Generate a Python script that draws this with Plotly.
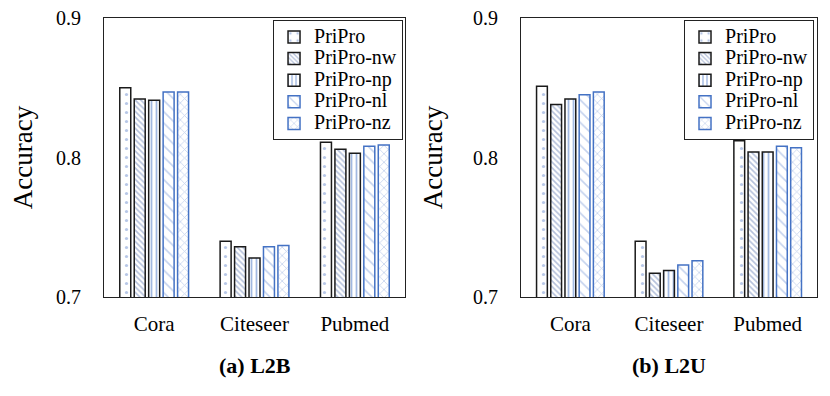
import plotly.graph_objects as go

categories = ["Cora", "Citeseer", "Pubmed"]
methods = ["PriPro", "PriPro-nw", "PriPro-np", "PriPro-nl", "PriPro-nz"]

l2b_pripro = [0.850, 0.740, 0.811]
l2b_nw = [0.842, 0.736, 0.806]
l2b_np = [0.841, 0.728, 0.803]
l2b_nl = [0.847, 0.736, 0.808]
l2b_nz = [0.847, 0.737, 0.809]

l2u_pripro = [0.851, 0.740, 0.812]
l2u_nw = [0.838, 0.717, 0.804]
l2u_np = [0.842, 0.719, 0.804]
l2u_nl = [0.845, 0.723, 0.808]
l2u_nz = [0.847, 0.726, 0.807]

y_ticks = [0.7, 0.8, 0.9]
subtitles = ["(a) L2B", "(b) L2U"]

FONT = "Liberation Serif, Times New Roman, serif"
BLUE = "#4472C4"

styles = [
    dict(line="#1a1a1a", shape=".", fg="#6f8fd0", size=9, sol=0.1),
    dict(line="#1a1a1a", shape="\\", fg="#6b84b8", size=4, sol=0.4),
    dict(line="#1a1a1a", shape="|", fg=BLUE, size=5, sol=0.35),
    dict(line=BLUE, shape="\\", fg="#8aa6dc", size=8, sol=0.2),
    dict(line=BLUE, shape="x", fg="#8aa6dc", size=6, sol=0.25),
]

fig = go.Figure()

panels = [
    ([l2b_pripro, l2b_nw, l2b_np, l2b_nl, l2b_nz], "x", "y", "legend"),
    ([l2u_pripro, l2u_nw, l2u_np, l2u_nl, l2u_nz], "x2", "y2", "legend2"),
]

for series, xa, ya, lg in panels:
    for name, vals, st in zip(methods, series, styles):
        fig.add_trace(go.Bar(
            x=categories, y=vals, xaxis=xa, yaxis=ya, legend=lg,
            name=f"<span style='font-size:20px'>{name}</span>",
            marker=dict(
                color="white",
                line=dict(color=st["line"], width=1.5),
                pattern=dict(shape=st["shape"], fgcolor=st["fg"], bgcolor="white",
                             size=st["size"], solidity=st["sol"], fillmode="overlay"),
            ),
        ))

axis_common = dict(showline=True, mirror=True, linecolor="#222", linewidth=1,
                   showgrid=False, zeroline=False, automargin=False,
                   ticklabeloverflow="allow")

def xaxis(dom):
    return dict(domain=dom, tickfont=dict(size=21, family=FONT, color="black"), ticks="",
                ticklabelstandoff=8, **axis_common)

def yaxis(anchor):
    return dict(range=[0.7, 0.9], tickvals=y_ticks, ticktext=[f"{v:.1f}" for v in y_ticks],
                tickfont=dict(size=20, family=FONT, color="black"), ticks="",
                ticklabelstandoff=18, anchor=anchor,
                title=dict(text="Accuracy", font=dict(size=27, family=FONT, color="black"),
                           standoff=22), **axis_common)

# page body has an 8px default margin, so the figure is offset by 8px
fig.update_layout(
    width=822, height=388,
    margin=dict(l=96, r=13, t=10, b=99),
    paper_bgcolor="white", plot_bgcolor="white",
    font=dict(family=FONT, color="black"),
    barmode="group", bargap=0.28, bargroupgap=0.24,
    xaxis=xaxis([0, 0.4222]),
    xaxis2=xaxis([0.5849, 1]),
    yaxis=yaxis("x"),
    yaxis2=yaxis("x2"),
    legend=dict(x=0.4194, y=0.992, xanchor="right", yanchor="top",
                bordercolor="#222", borderwidth=1, bgcolor="white",
                font=dict(size=14.3, family=FONT, color="black"), tracegroupgap=0),
    legend2=dict(x=0.9958, y=0.992, xanchor="right", yanchor="top",
                 bordercolor="#222", borderwidth=1, bgcolor="white",
                 font=dict(size=14.3, family=FONT, color="black"), tracegroupgap=0),
    showlegend=True,
)

for t, dom in zip(subtitles, [[0, 0.4222], [0.5849, 1]]):
    fig.add_annotation(text=f"<b>{t}</b>", x=(dom[0] + dom[1]) / 2, y=-0.245,
                       xref="paper", yref="paper", xanchor="center", yanchor="middle",
                       showarrow=False, font=dict(size=22, family=FONT, color="black"))

fig.write_html("out.html")
